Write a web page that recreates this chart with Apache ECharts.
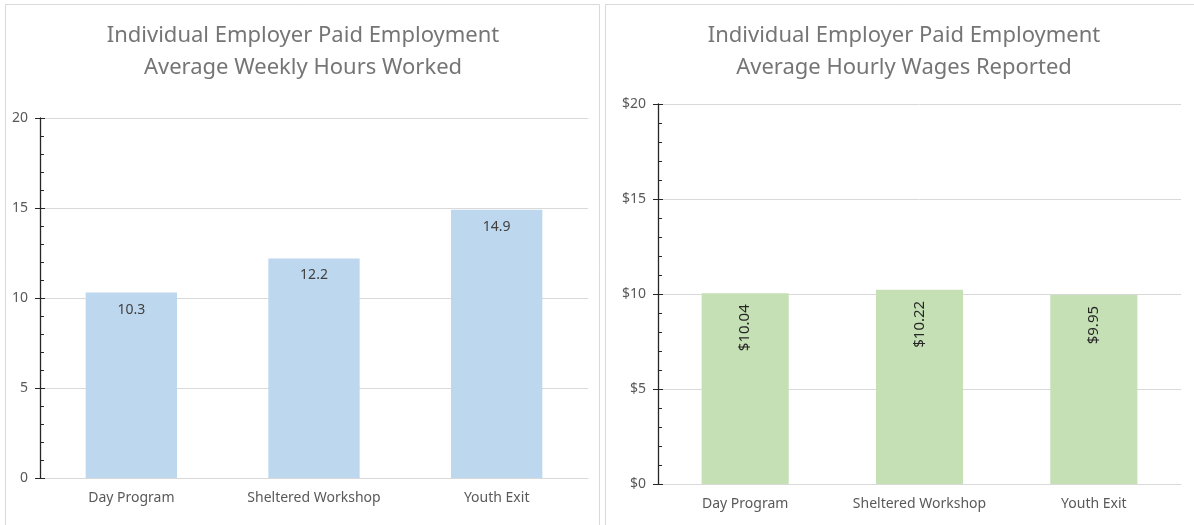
<!DOCTYPE html>
<html>
<head>
<meta charset="utf-8">
<script src="https://cdn.jsdelivr.net/npm/echarts@6/dist/echarts.min.js"></script>
<style>
  html, body { margin: 0; padding: 0; background: #fff; }
  #main { width: 1194px; height: 525px; }
</style>
</head>
<body>
<div id="main"></div>
<script>
// 数据
const categories = ['Day Program', 'Sheltered Workshop', 'Youth Exit'];
const hoursValues = [10.3, 12.2, 14.9];
const wageValues = [10.04, 10.22, 9.95];
const hoursTitle = 'Individual Employer Paid Employment\nAverage Weekly Hours Worked';
const wageTitle = 'Individual Employer Paid Employment\nAverage Hourly Wages Reported';

const FONT = '"Noto Sans", sans-serif';
const labelGray = '#595959';
const axisDark = '#262626';

// 主刻度轴（向外的刻度、标签、网格线）
function mainAxis (gridIndex, max, fmt) {
  return {
    type: 'value',
    gridIndex: gridIndex,
    position: 'left',
    min: 0,
    max: max,
    interval: 5,
    axisLine: { show: true, lineStyle: { color: axisDark, width: 1.3 } },
    axisTick: { show: true, inside: false, length: 5, lineStyle: { color: axisDark } },
    axisLabel: { color: labelGray, fontSize: 14, fontFamily: FONT, margin: 12, formatter: fmt },
    splitLine: { show: true, lineStyle: { color: '#d9d9d9', width: 1 } },
  };
}
// 叠加轴：向内的主刻度和次刻度
function innerAxis (gridIndex, max) {
  return {
    type: 'value',
    gridIndex: gridIndex,
    position: 'left',
    offset: 0,
    min: 0,
    max: max,
    interval: 5,
    axisLine: { show: false },
    axisTick: { show: true, inside: true, length: 5, lineStyle: { color: axisDark } },
    minorTick: { show: true, splitNumber: 5, length: 4, lineStyle: { color: axisDark } },
    axisLabel: { show: false },
    splitLine: { show: false },
  };
}
function catAxis (gridIndex) {
  return {
    type: 'category',
    gridIndex: gridIndex,
    data: categories,
    axisLine: { show: true, lineStyle: { color: '#d9d9d9', width: 1 } },
    axisTick: { show: false },
    axisLabel: { color: labelGray, fontSize: 14, fontFamily: FONT, margin: 13 },
  };
}

const option = {
  animation: false,
  backgroundColor: '#fff',
  graphic: [
    { type: 'rect', shape: { x: 5.5, y: 4.5, width: 594, height: 540 }, style: { fill: 'none', stroke: '#d9d9d9', lineWidth: 1 } },
    { type: 'rect', shape: { x: 605.5, y: 4.5, width: 600, height: 540 }, style: { fill: 'none', stroke: '#d9d9d9', lineWidth: 1 } },
  ],
  title: [
    {
      text: hoursTitle, left: 298, top: 15, textAlign: 'center',
      textStyle: { color: '#757575', fontSize: 22, fontWeight: 'normal', fontFamily: FONT, lineHeight: 32 },
    },
    {
      text: wageTitle, left: 899, top: 15, textAlign: 'center',
      textStyle: { color: '#757575', fontSize: 22, fontWeight: 'normal', fontFamily: FONT, lineHeight: 32 },
    },
  ],
  grid: [
    { left: 40, top: 118, width: 548, height: 360 },
    { left: 658, top: 104, width: 523, height: 380 },
  ],
  xAxis: [catAxis(0), catAxis(1)],
  yAxis: [
    mainAxis(0, 20),
    innerAxis(0, 20),
    mainAxis(1, 20, v => '$' + v),
    innerAxis(1, 20),
  ],
  series: [
    {
      type: 'bar', xAxisIndex: 0, yAxisIndex: 0, data: hoursValues, barWidth: '50%',
      itemStyle: { color: '#BDD7EE' },
      label: { show: true, position: 'insideTop', distance: 10, color: '#404040', fontSize: 14, fontFamily: FONT },
    },
    {
      type: 'bar', xAxisIndex: 1, yAxisIndex: 2, data: wageValues, barWidth: '50%',
      itemStyle: { color: '#C5E0B4' },
      label: {
        show: true, position: 'insideTop', distance: 11, rotate: 90, align: 'right', verticalAlign: 'middle',
        color: '#262626', fontSize: 15, fontFamily: FONT, formatter: p => '$' + p.value.toFixed(2),
      },
    },
  ],
};

const chart = echarts.init(document.getElementById('main'));
chart.setOption(option);
</script>
</body>
</html>
